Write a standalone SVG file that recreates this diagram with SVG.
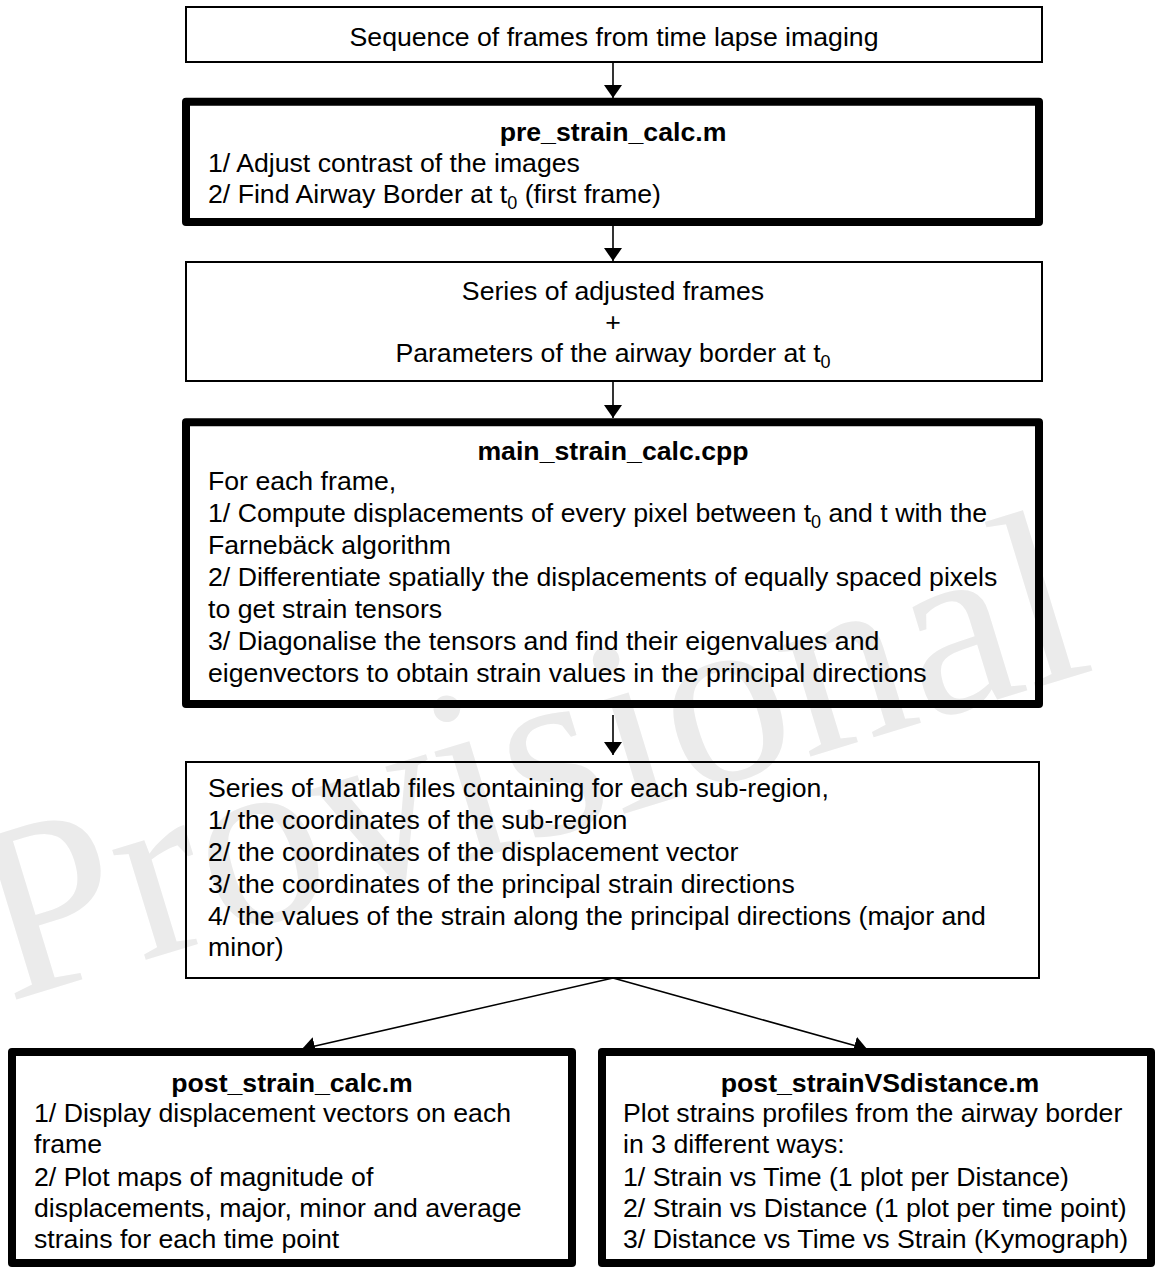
<svg xmlns="http://www.w3.org/2000/svg" width="1157" height="1269" viewBox="0 0 1157 1269">
<style>
text{font-family:"Liberation Sans",Arial,Helvetica,sans-serif;font-size:26.67px;fill:#000}
.t{font-weight:bold;text-anchor:middle}
.c{text-anchor:middle}
.thin{fill:none;stroke:#000;stroke-width:2}
.thick{fill:none;stroke:#000;stroke-width:8;stroke-linejoin:round}
.conn line{stroke:#000;stroke-width:1.6;marker-end:url(#ah)}
.wm{font-family:"Liberation Serif","Times New Roman",serif;font-size:250px;fill:#ebebeb}
</style>
<defs>
<marker id="ah" viewBox="0 0 13 18" refX="13" refY="9" markerWidth="13" markerHeight="18" markerUnits="userSpaceOnUse" orient="auto">
<path d="M0,0 L13,9 L0,18 z" fill="#000"/>
</marker>
</defs>
<rect width="1157" height="1269" fill="#fff"/>
<text class="wm" transform="translate(8,1002) rotate(-17)">Provisional</text>

<g id="connectors" class="conn">
<line x1="613" y1="62" x2="613" y2="98"/>
<line x1="613" y1="226" x2="613" y2="261"/>
<line x1="613" y1="381" x2="613" y2="418"/>
<line x1="613" y1="715" x2="613" y2="755"/>
<line x1="613" y1="978" x2="302" y2="1049"/>
<line x1="613" y1="978" x2="867" y2="1049"/>
</g>

<g id="n1">
<rect class="thin" x="186" y="7" width="856" height="55"/>
<text class="c" x="614" y="46">Sequence of frames from time lapse imaging</text>
</g>

<g id="n2">
<rect class="thick" x="186" y="101.7" width="853" height="120.3"/>
<text class="t" x="613" y="141">pre_strain_calc.m</text>
<text x="208" y="172">1/ Adjust contrast of the images</text>
<text x="208" y="203">2/ Find Airway Border at t<tspan dy="6" font-size="18">0</tspan><tspan dy="-6"> (first frame)</tspan></text>
</g>

<g id="n3">
<rect class="thin" x="186" y="262" width="856" height="119"/>
<text class="c" x="613" y="300">Series of adjusted frames</text>
<text class="c" x="613" y="331">+</text>
<text class="c" x="613" y="362">Parameters of the airway border at t<tspan dy="6" font-size="18">0</tspan></text>
</g>

<g id="n4">
<rect class="thick" x="186" y="422.3" width="853" height="281.7"/>
<text class="t" x="613" y="460">main_strain_calc.cpp</text>
<text x="208" y="489.5">For each frame,</text>
<text x="208" y="521.5">1/ Compute displacements of every pixel between t<tspan dy="6" font-size="18">0</tspan><tspan dy="-6"> and t with the</tspan></text>
<text x="208" y="553.5">Farnebäck algorithm</text>
<text x="208" y="585.5">2/ Differentiate spatially the displacements of equally spaced pixels</text>
<text x="208" y="617.5">to get strain tensors</text>
<text x="208" y="649.5">3/ Diagonalise the tensors and find their eigenvalues and</text>
<text x="208" y="681.5">eigenvectors to obtain strain values in the principal directions</text>
</g>

<g id="n5">
<rect class="thin" x="186" y="762" width="853" height="216"/>
<text x="208" y="797">Series of Matlab files containing for each sub-region,</text>
<text x="208" y="829">1/ the coordinates of the sub-region</text>
<text x="208" y="861">2/ the coordinates of the displacement vector</text>
<text x="208" y="893">3/ the coordinates of the principal strain directions</text>
<text x="208" y="925">4/ the values of the strain along the principal directions (major and</text>
<text x="208" y="956">minor)</text>
</g>

<g id="n6">
<rect class="thick" x="12" y="1052" width="560" height="211"/>
<text class="t" x="292" y="1092">post_strain_calc.m</text>
<text x="34" y="1122">1/ Display displacement vectors on each</text>
<text x="34" y="1153">frame</text>
<text x="34" y="1186">2/ Plot maps of magnitude of</text>
<text x="34" y="1217">displacements, major, minor and average</text>
<text x="34" y="1248">strains for each time point</text>
</g>

<g id="n7">
<rect class="thick" x="602" y="1052" width="549" height="211"/>
<text class="t" x="880" y="1092">post_strainVSdistance.m</text>
<text x="623" y="1122">Plot strains profiles from the airway border</text>
<text x="623" y="1153">in 3 different ways:</text>
<text x="623" y="1186">1/ Strain vs Time (1 plot per Distance)</text>
<text x="623" y="1217">2/ Strain vs Distance (1 plot per time point)</text>
<text x="623" y="1248">3/ Distance vs Time vs Strain (Kymograph)</text>
</g>
</svg>
